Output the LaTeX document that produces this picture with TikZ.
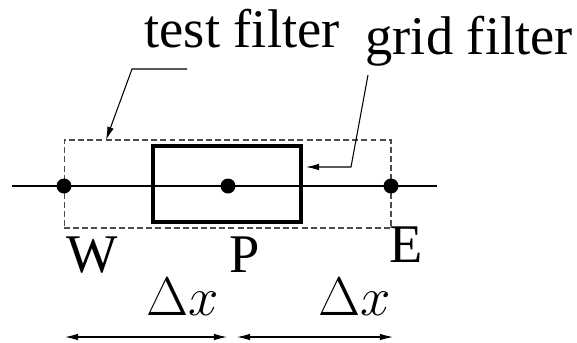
\RequirePackage{fix-cm}
\documentclass[tikz,border=0pt]{standalone}
\usepackage[no-math]{fontspec}
\setmainfont{Liberation Serif}
\usetikzlibrary{arrows.meta,positioning}

\begin{document}
\begin{tikzpicture}[
  x=0.02cm, y=-0.02cm, line width=0.6pt,
  font=\fontsize{31}{37}\selectfont,
  dot/.style={circle,fill,inner sep=0pt,minimum size=0.3cm},
  lbl/.style={inner sep=0pt,anchor=base west},
  testbox/.style={draw=black!70,dash pattern=on 3.4pt off 1.8pt,minimum width=6.54cm,minimum height=1.76cm,inner sep=0pt},
  gridbox/.style={draw,line width=1.8pt,minimum width=2.96cm,minimum height=1.52cm,inner sep=0pt},
  >={Latex[length=7.5pt,width=3.8pt]}]
\useasboundingbox (0,0) rectangle (577,342);
\coordinate (lend) at (12,186); \coordinate (rend) at (437,186);
\draw (lend)--(rend);
\node[testbox] (test) at (227.5,184) {};
\node[gridbox] (grid) at (227,184) {};
\node[dot] (W) at (64,186) {};
\node[dot] (P) at (228,186) {};
\node[dot] (E) at (391,186) {};
\node[lbl] (tf) at (144,47) {test filter};
\node[lbl] (gf) at (365,54) {grid filter};
\node[lbl] (wl) at (66,272) {W};
\node[lbl] (pl) at (229,272) {P};
\node[lbl] (el) at (389,262) {E};
\node[lbl] (dx1) at (146,315) {$\Delta x$};
\node[lbl] (dx2) at (318,315) {$\Delta x$};
\coordinate (t0) at (187,69); \coordinate (t1) at (132,69); \coordinate (t2) at (106,140);
\draw[->] (t0)--(t1)--(t2);
\coordinate (g0) at (368,75); \coordinate (g1) at (351,167); \coordinate (g2) at (306,167);
\draw[->] (g0)--(g1)--(g2);
\coordinate (a1) at (65,337); \coordinate (a2) at (227,337);
\coordinate (a3) at (237,337); \coordinate (a4) at (393,337);
\draw[<->] (a1)--(a2); \draw[<->] (a3)--(a4);
\end{tikzpicture}
\end{document}
